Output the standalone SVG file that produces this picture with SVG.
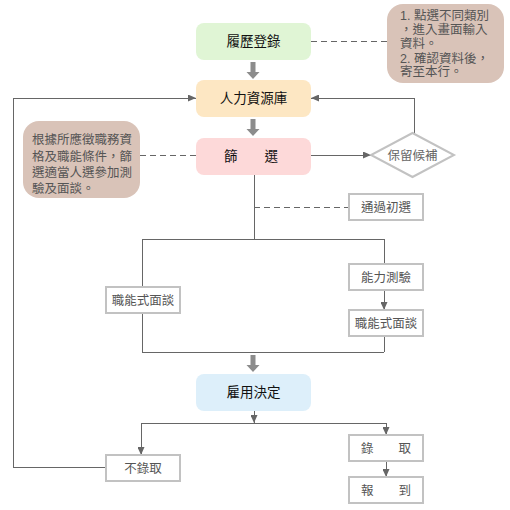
<svg xmlns="http://www.w3.org/2000/svg" width="510" height="510" viewBox="0 0 510 510">
<style>
text{font-family:"Liberation Sans","Noto Sans CJK TC","Noto Sans CJK SC",sans-serif;dominant-baseline:central}
.main{font-size:13.5px;fill:#111;text-anchor:middle}
.gbox{fill:#fff;stroke:#c2c2c2;stroke-width:2}
.gt{font-size:12.5px;fill:#555;text-anchor:middle}
.note{fill:#d9c3b8}
.nt{font-size:12.5px;fill:#555}
.ln{fill:none;stroke:#666;stroke-width:1;shape-rendering:crispEdges}
.dash{fill:none;stroke:#666;stroke-width:1;stroke-dasharray:6,4;shape-rendering:crispEdges}
.thick{fill:#8c8c8c}
</style>
<defs>
<marker id="ah" markerWidth="8" markerHeight="7" refX="8" refY="3.5" orient="auto" markerUnits="userSpaceOnUse">
<path d="M0,0 L8,3.5 L0,7 z" fill="#666"/>
</marker>
</defs>
<g id="connectors">
<path class="ln" d="M106,467 H13 V98 H196" marker-end="url(#ah)"/>
<path class="ln" d="M414,133 V98 H311" marker-end="url(#ah)"/>
<path class="ln" d="M311,155 H371" marker-end="url(#ah)"/>
<path class="dash" d="M311,41 H387"/>
<path class="dash" d="M140,155 H196"/>
<path class="dash" d="M254,207 H349"/>
<path class="ln" d="M254,175 V239 M142,239 H384 M142,239 V287 M142,313 V352 M384,239 V264 M384,336 V352 M142,352 H384"/>
<path class="ln" d="M384,290 V310" marker-end="url(#ah)"/>
<path class="ln" d="M254,411 V423" marker-end="url(#ah)"/>
<path class="ln" d="M141,423 H386"/>
<path class="ln" d="M141,423 V455" marker-end="url(#ah)"/>
<path class="ln" d="M386,423 V435" marker-end="url(#ah)"/>
<path class="ln" d="M386,461 V477" marker-end="url(#ah)"/>
<polygon class="thick" points="250.5,62 255.5,62 255.5,72 259.5,72 253,79 246.5,72 250.5,72"/>
<polygon class="thick" points="250.5,119 255.5,119 255.5,129 259.5,129 253,136 246.5,129 250.5,129"/>
<polygon class="thick" points="250.5,355 255.5,355 255.5,365 259.5,365 253,372 246.5,365 250.5,365"/>
</g>
<g id="resume">
<rect x="196" y="23" width="115" height="37" rx="8" fill="#e0f5d5"/>
<text class="main" x="253.5" y="41.5">履歷登錄</text>
</g>
<g id="hrpool">
<rect x="196" y="80" width="115" height="37" rx="8" fill="#fde7c3"/>
<text class="main" x="253.5" y="98.5">人力資源庫</text>
</g>
<g id="screen">
<rect x="196" y="138" width="115" height="37" rx="8" fill="#fdd9d9"/>
<text class="main" x="251" y="156.5">篩　　選</text>
</g>
<g id="hire">
<rect x="196" y="374" width="115" height="37" rx="8" fill="#ddeffa"/>
<text class="main" x="253.5" y="392.5">雇用決定</text>
</g>
<g id="note-right">
<rect class="note" x="387" y="4" width="117" height="79" rx="16"/>
<text class="nt" x="400" y="16">1. 點選不同類別</text>
<text class="nt" x="400" y="30">，進入畫面輸入</text>
<text class="nt" x="400" y="44">資料。</text>
<text class="nt" x="400" y="59">2. 確認資料後，</text>
<text class="nt" x="400" y="72">寄至本行。</text>
</g>
<g id="note-left">
<rect class="note" x="23" y="121" width="117" height="77" rx="16"/>
<text class="nt" x="32" y="140">根據所應徵職務資</text>
<text class="nt" x="32" y="157">格及職能條件，篩</text>
<text class="nt" x="32" y="173">選適當人選參加測</text>
<text class="nt" x="32" y="189">驗及面談。</text>
</g>
<g id="reserve">
<polygon points="412.5,133 454,155 412.5,177 371,155" fill="#fff" stroke="#c2c2c2" stroke-width="2"/>
<text class="gt" x="412.5" y="155.5" style="fill:#666">保留候補</text>
</g>
<g id="pass">
<rect class="gbox" x="349" y="194" width="74" height="26"/>
<text class="gt" x="386" y="207.5">通過初選</text>
</g>
<g id="interview-left">
<rect class="gbox" x="106" y="287" width="74" height="26"/>
<text class="gt" x="143" y="300.5">職能式面談</text>
</g>
<g id="test">
<rect class="gbox" x="349" y="264" width="74" height="26"/>
<text class="gt" x="386" y="277.5">能力測驗</text>
</g>
<g id="interview-right">
<rect class="gbox" x="349" y="310" width="74" height="26"/>
<text class="gt" x="386" y="323.5">職能式面談</text>
</g>
<g id="reject">
<rect class="gbox" x="106" y="455" width="74" height="26"/>
<text class="gt" x="143" y="468.5">不錄取</text>
</g>
<g id="accept">
<rect class="gbox" x="349" y="435" width="74" height="26"/>
<text class="gt" x="386" y="448.5">錄　　取</text>
</g>
<g id="report">
<rect class="gbox" x="349" y="477" width="74" height="26"/>
<text class="gt" x="386" y="490.5">報　　到</text>
</g>
</svg>
